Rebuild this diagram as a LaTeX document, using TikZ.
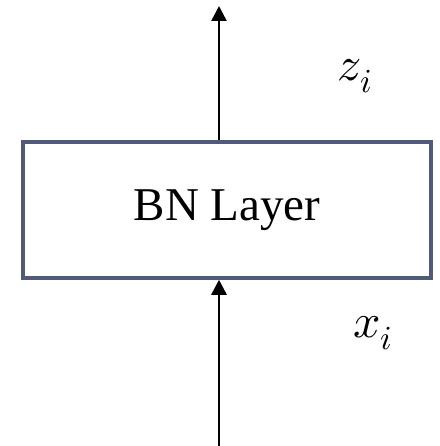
\documentclass[tikz,border=0pt]{standalone}
\usepackage{fontspec}
\usepackage{unicode-math}
\setmainfont{Liberation Serif}
\setmathfont{Latin Modern Math}
\usepackage{xcolor}
\usetikzlibrary{arrows.meta,positioning}
\definecolor{boxline}{RGB}{82,90,122}

\begin{document}
\begin{tikzpicture}[x=1pt,y=1pt,
        layerbox/.style={draw=boxline,line width=3.5pt,minimum width=408pt,minimum height=136pt,font=\fontsize{47}{52}\selectfont},
        flow/.style={line width=2.5pt,-{Triangle[length=15pt,width=15pt]}},
        lbl/.style={font=\fontsize{48}{54}\selectfont}]
        \useasboundingbox (0,0) rectangle (439,-446);
        \node[layerbox] (bn) at (227,-210) {BN Layer};
        \coordinate (out) at (219,-6);
        \coordinate (in) at (219,-446);
        \draw[flow] (out |- bn.north) -- (out);
        \draw[flow] (in) -- (in |- bn.south);
        \node[lbl] (z) at (355,-76) {$z_i$};
        \node[lbl] (x) at (373,-333) {$x_i$};
\end{tikzpicture}
\end{document}
